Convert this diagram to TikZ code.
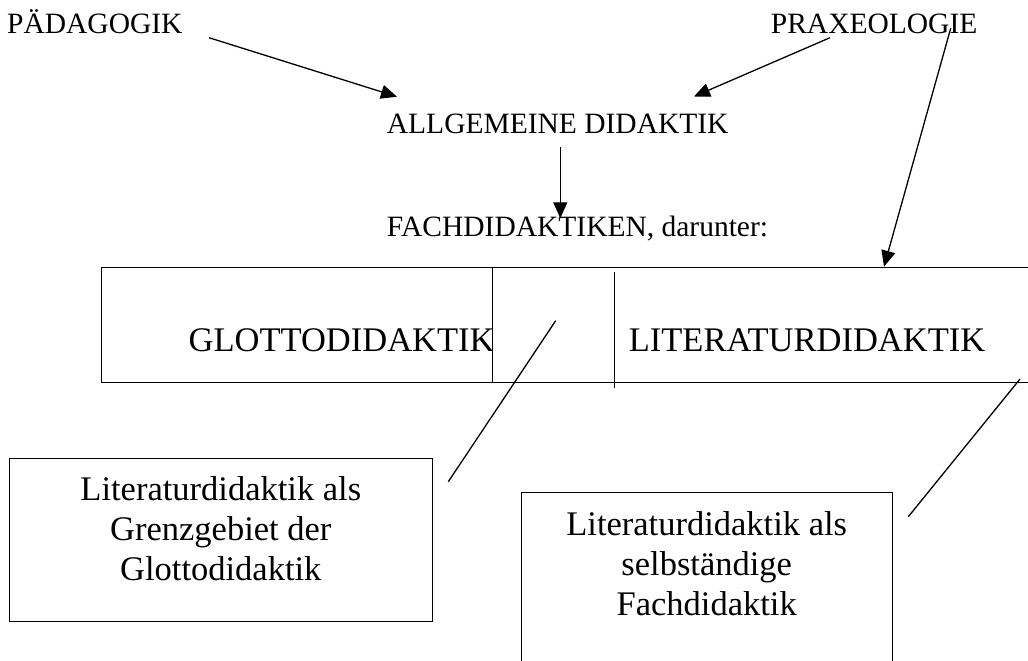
\documentclass[tikz,border=0pt]{standalone}
\usepackage{fontspec}
\setmainfont{Liberation Serif}
\usetikzlibrary{arrows.meta}
\begin{document}
\begin{tikzpicture}[x=1pt,y=-1pt,
  lbl/.style={inner sep=0pt, anchor=base west, font=\fontsize{29.5}{33}\selectfont},
  bigtxt/.style={inner sep=0pt, anchor=base, font=\fontsize{34.5}{40}\selectfont},
  boxtxt/.style={inner sep=0pt, align=center, anchor=base, font=\fontsize{34.5}{40}\selectfont},
  frame/.style={draw, line width=1.3pt, inner sep=0pt, fill=white},
  arr/.style={line width=1.3pt, -{Triangle[length=16pt,width=14pt]}},
  ln/.style={line width=1.3pt}]
\useasboundingbox (0,0) rectangle (1028,661);
\clip (0,0) rectangle (1028,661);
\fill[white] (0,0) rectangle (1028,661);

% top labels
\node[lbl] (paed) at (7,33.3) {PÄDAGOGIK};
\node[lbl] (prax) at (770.7,33.3) {PRAXEOLOGIE};
\node[lbl] (allg) at (386.7,133.3) {ALLGEMEINE DIDAKTIK};
\node[lbl] (fach) at (386.7,236.7) {FACHDIDAKTIKEN, darunter:};

% central boxes
\node[frame, minimum width=481.3pt, minimum height=115pt] (glbox) at (342.35,325.2) {};
\node[bigtxt] (gltxt) at (341.6,351) {GLOTTODIDAKTIK};
\node[frame, minimum width=630pt, minimum height=115pt] (litbox) at (807.7,325.2) {};
\node[bigtxt] (littxt) at (807,351) {LITERATURDIDAKTIK};
\coordinate (vtop) at (614.3,272);
\coordinate (vbot) at (614.3,387.7);
\draw[ln] (vtop) -- (vbot);

% bottom boxes
\node[frame, minimum width=423pt, minimum height=163.4pt] (grenzbox) at (220.8,540) {};
\node[boxtxt] (grenztxt) at (220.8,580) {Literaturdidaktik als\\Grenzgebiet der\\Glottodidaktik};
\node[frame, minimum width=371pt, minimum height=240pt] (selbbox) at (707.2,612.3) {};
\node[boxtxt] (selbtxt) at (706.7,615) {Literaturdidaktik als\\selbständige\\Fachdidaktik};

% arrows
\coordinate (a1s) at (209,37.7);   \coordinate (a1e) at (397,96.7);
\coordinate (a2s) at (830,37.7);   \coordinate (a2e) at (694,96.5);
\coordinate (a3s) at (560.3,147.3); \coordinate (a3e) at (560.3,218.3);
\coordinate (a4s) at (950.7,28.3); \coordinate (a4e) at (884,266.7);
\draw[arr] (a1s) -- (a1e);
\draw[arr] (a2s) -- (a2e);
\draw[arr] (a3s) -- (a3e);
\draw[arr] (a4s) -- (a4e);

% plain connector lines
\coordinate (l1s) at (555.7,320.7); \coordinate (l1e) at (448.3,481.7);
\coordinate (l2s) at (1020,379);    \coordinate (l2e) at (908.3,516.7);
\draw[ln] (l1s) -- (l1e);
\draw[ln] (l2s) -- (l2e);
\end{tikzpicture}
\end{document}
